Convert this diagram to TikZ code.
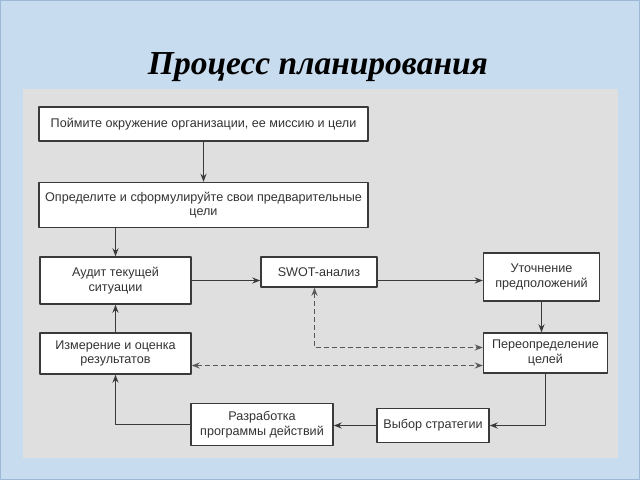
\documentclass[tikz,border=0pt]{standalone}
\usepackage{fontspec}
\setmainfont{Liberation Sans}
\newfontfamily\titlefont{Liberation Serif}
\usetikzlibrary{arrows.meta}
\definecolor{slideblue}{HTML}{C8DCF0}
\definecolor{slideedge}{HTML}{9DB8D6}
\definecolor{panelgrey}{HTML}{DFDFDF}
\definecolor{boxline}{HTML}{3A3A3A}
\tikzset{
	stage/.style={draw=boxline, fill=white, line width=1.4pt, align=center, inner sep=0pt, text=black!80, font=\fontsize{12.6}{14.5}\selectfont},
	flow/.style={->, draw=boxline, line width=1.4pt},
	feedback/.style={<->, draw=boxline!85, dash pattern=on 5pt off 3pt, line width=1.4pt}
}
\begin{document}
\begin{tikzpicture}[x=1pt, y=-1pt, line join=round, >={Stealth[length=8pt, width=6pt]}]
	\fill[slideblue] (0,0) rectangle (640,480);
	\draw[slideedge, line width=1.2pt] (0.6,0.6) rectangle (639.4,479.4);
	\fill[panelgrey] (23,89) rectangle (618,458);
	\useasboundingbox (0,0) rectangle (640,480);
	% title
	\node (title) at (318,67) {\titlefont\bfseries\itshape\fontsize{33.5}{36}\selectfont Процесс планирования};
	% stages
	\node[stage, minimum width=329pt, minimum height=34pt] (env) at (203.5,124) {Поймите окружение организации, ее миссию и цели};
	\node[stage, minimum width=329pt, minimum height=45pt] (goals) at (203.5,205) {Определите и сформулируйте свои предварительные\\цели};
	\node[stage, minimum width=151pt, minimum height=47pt] (audit) at (115.5,280.5) {Аудит текущей\\ситуации};
	\node[stage, minimum width=116pt, minimum height=30pt] (swot) at (319,272) {SWOT-анализ};
	\node[stage, minimum width=116pt, minimum height=48pt] (refine) at (541.5,277) {Уточнение\\предположений};
	\node[stage, minimum width=124pt, minimum height=40pt] (redefine) at (545.5,353) {Переопределение\\целей};
	\node[stage, minimum width=151pt, minimum height=41pt] (measure) at (115.5,353.5) {Измерение и оценка\\результатов};
	\node[stage, minimum width=142pt, minimum height=42pt] (program) at (262,424.5) {Разработка\\программы действий};
	\node[stage, minimum width=112pt, minimum height=34pt] (strategy) at (433,425.5) {Выбор стратегии};
	% main flow
	\draw[flow] (env) -- (goals);
	\draw[flow] (goals.south -| audit.north) -- (audit.north);
	\draw[flow] (audit.east) -- (audit.east -| swot.west);
	\draw[flow] (swot.east |- audit.east) -- (audit.east -| refine.west);
	\draw[flow] (refine.south) -- (refine.south |- redefine.north);
	\draw[flow] (redefine.south) |- (strategy.east);
	\draw[flow] (strategy.west) -- (strategy.west -| program.east);
	\draw[flow] (program.west) -| (measure.south);
	\draw[flow] (measure.north) -- (audit.south);
	% feedback
	\coordinate (fbup) at (314.5,347.5);
	\coordinate (fblow) at (300,365.5);
	\draw[feedback] (swot.south -| fbup) -- (fbup) -- (fbup -| redefine.west);
	\draw[feedback] (fblow -| measure.east) -- (fblow -| redefine.west);
\end{tikzpicture}
\end{document}
